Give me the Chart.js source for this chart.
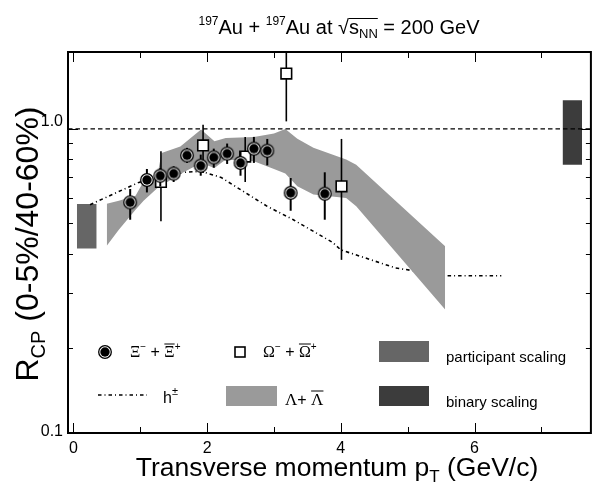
<!DOCTYPE html>
<html><head><meta charset="utf-8">
<script src="https://cdn.jsdelivr.net/npm/chart.js@4.4.0/dist/chart.umd.min.js"></script>
<style>html,body{margin:0;padding:0;background:#fff;}#wrap{width:600px;height:491px;}</style>
</head><body><div id="wrap"><canvas id="c" width="600" height="491"></canvas></div>
<script>
// ---------- data ----------
const xiPt    = [0.85, 1.10, 1.30, 1.50, 1.70, 1.905, 2.10, 2.30, 2.50, 2.70, 2.90, 3.25, 3.76];
const xiR     = [0.583, 0.687, 0.709, 0.720, 0.823, 0.763, 0.811, 0.834, 0.779, 0.865, 0.852, 0.625, 0.621];
const xiErrHi = [0.643, 0.745, 0.750, 0.760, 0.870, 0.828, 0.865, 0.898, 0.848, 0.943, 0.929, 0.697, 0.727];
const xiErrLo = [0.513, 0.627, 0.655, 0.677, 0.779, 0.709, 0.752, 0.773, 0.709, 0.779, 0.765, 0.548, 0.513];

const omPt    = [1.31, 1.94, 2.57, 3.185, 4.01];
const omR     = [0.677, 0.886, 0.816, 1.502, 0.656];
const omErrHi = [0.848, 1.032, 0.943, 2.00, 0.929];
const omErrLo = [0.507, 0.723, 0.677, 1.057, 0.382];

const hPt = [0.25, 0.98, 1.32, 1.64, 1.91, 2.21, 2.50, 2.90, 3.29, 3.88, 4.00, 4.82, 5.56, 6.40];
const hR  = [0.573, 0.675, 0.706, 0.727, 0.732, 0.700, 0.640, 0.566, 0.513, 0.434, 0.411, 0.360, 0.340, 0.340];

const lamPt = [0.50, 0.68, 0.93, 1.05, 1.25, 1.32, 1.60, 1.91, 2.11, 2.28, 2.70, 3.00, 3.17, 3.35, 3.59, 4.08, 4.23, 5.56];
const lamHi = [0.577, 0.590, 0.612, 0.680, 0.700, 0.838, 0.878, 0.995, 0.913, 0.935, 0.943, 0.966, 1.000, 0.930, 0.870, 0.798, 0.769, 0.422];
const lamLo = [0.424, 0.477, 0.552, 0.590, 0.645, 0.660, 0.718, 0.779, 0.750, 0.798, 0.788, 0.745, 0.720, 0.656, 0.617, 0.602, 0.566, 0.265];

const partPt = [0.053, 0.349];
const partLo = [0.415, 0.415];
const partHi = [0.576, 0.576];

const binPt = [7.316, 7.607];
const binLo = [0.769, 0.769];
const binHi = [1.234, 1.234];

const unityPt = [-0.08, 7.74];
const unityR  = [1.0, 1.0];

const xTickVals  = [0, 1, 2, 3, 4, 5, 6, 7];
const xTickLabels = [0, 2, 4, 6];
const yTickVals  = [0.2, 0.3, 0.4, 0.5, 0.6, 0.7, 0.8, 0.9, 1.0];
const yTickLabels = [0.1, 1.0];

// ---------- helpers ----------
const SANS = '"Liberation Sans", Arial, sans-serif';
const SERIF = '"Liberation Serif", "Times New Roman", serif';
const pts = (xs, ys) => xs.map((x, i) => ({x: x, y: ys[i]}));

function circleMarker() {
  const c = document.createElement('canvas');
  c.width = 16; c.height = 16;
  const g = c.getContext('2d');
  g.beginPath(); g.arc(8, 8, 6.3, 0, 2 * Math.PI);
  g.fillStyle = '#fff'; g.fill();
  g.lineWidth = 1.3; g.strokeStyle = '#000'; g.stroke();
  g.beginPath(); g.arc(8, 8, 4.7, 0, 2 * Math.PI);
  g.fillStyle = '#000'; g.fill();
  return c;
}
const circ = circleMarker();

function rich(ctx, parts, x, y, align) {
  let w = 0;
  parts.forEach(p => {
    ctx.font = p.size + 'px ' + (p.font || SANS);
    p.w = ctx.measureText(p.t).width;
    w += p.w;
  });
  let cx = align === 'center' ? x - w / 2 : (align === 'right' ? x - w : x);
  parts.forEach(p => {
    ctx.font = p.size + 'px ' + (p.font || SANS);
    ctx.fillText(p.t, cx, y + (p.dy || 0));
    if (p.over) {
      const oy = y + (p.oy !== undefined ? p.oy : -p.size * 0.85);
      ctx.beginPath(); ctx.lineWidth = 1; ctx.moveTo(cx, oy); ctx.lineTo(cx + p.w, oy); ctx.stroke();
    }
    cx += p.w;
  });
  return w;
}

// error bars
function drawErr(chart, xs, lo, hi, width) {
  const ctx = chart.ctx, xs_ = chart.scales.x, ys_ = chart.scales.y, a = chart.chartArea;
  ctx.save();
  ctx.beginPath(); ctx.rect(a.left, a.top, a.right - a.left, a.bottom - a.top); ctx.clip();
  ctx.strokeStyle = '#000'; ctx.lineWidth = width;
  xs.forEach((x, i) => {
    const px = xs_.getPixelForValue(x);
    ctx.beginPath();
    ctx.moveTo(px, ys_.getPixelForValue(lo[i]));
    ctx.lineTo(px, ys_.getPixelForValue(hi[i]));
    ctx.stroke();
  });
  ctx.restore();
}

const decor = {
  id: 'decor',
  beforeDatasetDraw(chart, args) {
    if (args.index === 0) drawErr(chart, xiPt, xiErrLo, xiErrHi, 2);
    if (args.index === 1) drawErr(chart, omPt, omErrLo, omErrHi, 1.6);
  },
  afterDraw(chart) {
    const ctx = chart.ctx, a = chart.chartArea, sx = chart.scales.x, sy = chart.scales.y;
    ctx.save();
    ctx.fillStyle = '#000'; ctx.strokeStyle = '#000';
    // frame
    ctx.lineWidth = 2;
    ctx.strokeRect(a.left, a.top, a.right - a.left, a.bottom - a.top);
    // x ticks (inward, top and bottom)
    ctx.lineWidth = 1;
    xTickVals.forEach(v => {
      const px = Math.round(sx.getPixelForValue(v)) + 0.5;
      const len = (v % 2 === 0) ? 10 : 6;
      ctx.beginPath();
      ctx.moveTo(px, a.bottom); ctx.lineTo(px, a.bottom - len);
      ctx.moveTo(px, a.top); ctx.lineTo(px, a.top + len);
      ctx.stroke();
    });
    // y ticks (inward, left and right)
    yTickVals.forEach(v => {
      const py = Math.round(sy.getPixelForValue(v)) + 0.5;
      const len = (v === 1.0) ? 10 : 5;
      ctx.beginPath();
      ctx.moveTo(a.left, py); ctx.lineTo(a.left + len, py);
      ctx.moveTo(a.right, py); ctx.lineTo(a.right - len, py);
      ctx.stroke();
    });
    // tick labels
    ctx.font = '16px ' + SANS;
    ctx.textAlign = 'center'; ctx.textBaseline = 'alphabetic';
    xTickLabels.forEach(v => ctx.fillText(String(v), sx.getPixelForValue(v), 453));
    ctx.textAlign = 'right'; ctx.textBaseline = 'middle';
    yTickLabels.forEach(v => {
      const py = Math.min(sy.getPixelForValue(v) - 7.5, a.bottom - 1.5);
      ctx.fillText(v.toFixed(1), a.left - 5, py);
    });
    ctx.textAlign = 'left'; ctx.textBaseline = 'alphabetic';

    // title
    rich(ctx, [
      {t: '197', size: 12, dy: -9},
      {t: 'Au + ', size: 20},
      {t: '197', size: 12, dy: -9},
      {t: 'Au at ', size: 20},
      {t: '\u221A', size: 20},
      {t: 's', size: 20, over: true, oy: -15.5},
      {t: 'NN', size: 13, dy: 4, over: true, oy: -15.5},
      {t: ' = 200 GeV', size: 20}
    ], 339, 34, 'center');

    // x-axis title
    rich(ctx, [
      {t: 'Transverse momentum p', size: 26.5},
      {t: 'T', size: 17, dy: 6},
      {t: ' (GeV/c)', size: 26.5}
    ], 337, 476, 'center');

    // y-axis title (rotated)
    ctx.save();
    ctx.translate(38, 244);
    ctx.rotate(-Math.PI / 2);
    rich(ctx, [
      {t: 'R', size: 32},
      {t: 'CP', size: 20, dy: 7},
      {t: ' (0-5%/40-60%)', size: 32}
    ], 0, 0, 'center');
    ctx.restore();

    // ----- legend -----
    // row 1
    ctx.drawImage(circ, 105 - 8, 352 - 8);
    rich(ctx, [
      {t: '\u039E', size: 16, font: SERIF},
      {t: '\u2212', size: 10, dy: -7},
      {t: ' + ', size: 16},
      {t: '\u039E', size: 16, font: SERIF, over: true, oy: -13},
      {t: '+', size: 10, dy: -7}
    ], 130, 357, 'left');
    ctx.lineWidth = 1.6; ctx.fillStyle = '#fff';
    ctx.fillRect(235, 347, 10, 10); ctx.strokeRect(235, 347, 10, 10);
    ctx.fillStyle = '#000';
    rich(ctx, [
      {t: '\u03A9', size: 16, font: SERIF},
      {t: '\u2212', size: 10, dy: -7},
      {t: ' + ', size: 16},
      {t: '\u03A9', size: 16, font: SERIF, over: true, oy: -13},
      {t: '+', size: 10, dy: -7}
    ], 263, 357, 'left');
    ctx.fillStyle = '#666666'; ctx.fillRect(379, 341, 50, 21);
    ctx.fillStyle = '#000';
    ctx.font = '15px ' + SANS; ctx.fillText('participant scaling', 446, 362);
    // row 2
    ctx.save();
    ctx.lineWidth = 1.6; ctx.setLineDash([3.5, 3, 1, 3]);
    ctx.beginPath(); ctx.moveTo(98, 395); ctx.lineTo(147, 395); ctx.stroke();
    ctx.restore();
    rich(ctx, [
      {t: 'h', size: 16},
      {t: '\u00B1', size: 11, dy: -8}
    ], 163, 403, 'left');
    ctx.fillStyle = '#9a9a9a'; ctx.fillRect(226, 386, 51, 20);
    ctx.fillStyle = '#000';
    rich(ctx, [
      {t: '\u039B', size: 17, font: SERIF},
      {t: '+ ', size: 16},
      {t: '\u039B', size: 17, font: SERIF, over: true, oy: -14}
    ], 285, 405, 'left');
    ctx.fillStyle = '#3c3c3c'; ctx.fillRect(379, 386, 50, 20);
    ctx.fillStyle = '#000';
    ctx.font = '15px ' + SANS; ctx.fillText('binary scaling', 446, 407);
    ctx.restore();
  }
};

new Chart(document.getElementById('c'), {
  type: 'line',
  data: {
    datasets: [
      { label: 'Xi', data: pts(xiPt, xiR), showLine: false, pointStyle: circ, pointRadius: 7, order: 0 },
      { label: 'Omega', data: pts(omPt, omR), showLine: false, pointStyle: 'rect', pointRadius: 7.5,
        pointBackgroundColor: '#fff', pointBorderColor: '#000', pointBorderWidth: 1.6, order: 1 },
      { label: 'h', data: pts(hPt, hR), borderColor: '#000', borderWidth: 1.6, borderDash: [3.5, 3, 1, 3],
        pointRadius: 0, fill: false, tension: 0, order: 6 },
      { label: 'unity', data: pts(unityPt, unityR), borderColor: '#000', borderWidth: 1.4, borderDash: [4.5, 3],
        pointRadius: 0, fill: false, order: 3 },
      { label: 'lamLo', data: pts(lamPt, lamLo), borderWidth: 0, borderColor: 'rgba(0,0,0,0)', pointRadius: 0, fill: false, order: 5 },
      { label: 'lamHi', data: pts(lamPt, lamHi), borderWidth: 0, borderColor: 'rgba(0,0,0,0)', pointRadius: 0,
        fill: '-1', backgroundColor: '#9a9a9a', order: 4 },
      { label: 'partLo', data: pts(partPt, partLo), borderWidth: 0, borderColor: 'rgba(0,0,0,0)', pointRadius: 0, fill: false, order: 8 },
      { label: 'partHi', data: pts(partPt, partHi), borderWidth: 0, borderColor: 'rgba(0,0,0,0)', pointRadius: 0,
        fill: '-1', backgroundColor: '#666666', order: 7 },
      { label: 'binLo', data: pts(binPt, binLo), borderWidth: 0, borderColor: 'rgba(0,0,0,0)', pointRadius: 0, fill: false, order: 10 },
      { label: 'binHi', data: pts(binPt, binHi), borderWidth: 0, borderColor: 'rgba(0,0,0,0)', pointRadius: 0,
        fill: '-1', backgroundColor: '#3c3c3c', order: 9 }
    ]
  },
  options: {
    responsive: false,
    animation: false,
    devicePixelRatio: 1,
    layout: { padding: { left: 68, right: 2, top: 52, bottom: 58 } },
    plugins: { legend: { display: false }, tooltip: { enabled: false } },
    scales: {
      x: { type: 'linear', min: -0.08, max: 7.74, display: false },
      y: { type: 'logarithmic', min: 0.107, max: 1.76, display: false }
    }
  },
  plugins: [decor]
});
</script>
</body></html>
